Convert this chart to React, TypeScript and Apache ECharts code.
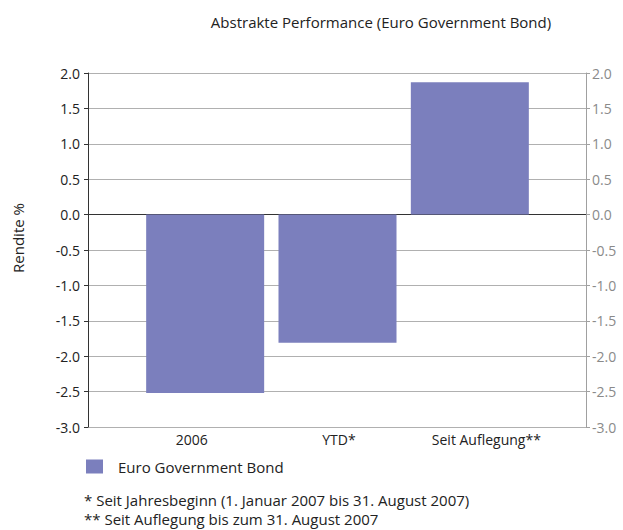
import React, { useEffect, useRef } from "react";
import * as echarts from "echarts";

const categories = ["2006", "YTD*", "Seit Auflegung**"];
const seriesName = "Euro Government Bond";
const values = [-2.52, -1.81, 1.87];
const titleText = "Abstrakte Performance (Euro Government Bond)";
const yAxisName = "Rendite %";
const footnotes = [
  "* Seit Jahresbeginn (1. Januar 2007 bis 31. August 2007)",
  "** Seit Auflegung bis zum 31. August 2007",
];
const yMin = -3;
const yMax = 2;
const yStep = 0.5;

const FONT = "'Open Sans', 'Noto Sans', sans-serif";

export default function App() {
  const ref = useRef<HTMLDivElement>(null);
  useEffect(() => {
    if (!ref.current) return;
    const chart = echarts.init(ref.current, undefined, { renderer: "svg" });
    const nLines = Math.round((yMax - yMin) / yStep) + 1;
    const splitColors: string[] = [];
    for (let i = 0; i < nLines; i++) {
      const v = yMin + i * yStep;
      splitColors.push(Math.abs(v) < 1e-9 ? "#333333" : "#b0b0b0");
    }
    const hiddenY = (gridIndex: number) => ({
      type: "value",
      gridIndex,
      min: yMin,
      max: yMax,
      interval: yStep,
      show: false,
      splitLine: { show: false },
    });
    chart.setOption({
      animation: false,
      textStyle: { fontFamily: FONT },
      title: {
        text: titleText,
        left: 376,
        textAlign: "center",
        top: 9,
        textStyle: { fontSize: 15, fontWeight: "normal", color: "#222", fontFamily: FONT },
      },
      legend: {
        left: 81,
        top: 454,
        itemWidth: 17,
        itemHeight: 14,
        icon: "rect",
        data: [seriesName],
        textStyle: { fontSize: 15, color: "#222", padding: [0, 0, 0, 10], fontFamily: FONT },
      },
      grid: [
        { left: 88, right: 37, top: 73, bottom: 103 },
        { left: 139, right: 87, top: 73, bottom: 103 },
        { left: 118, right: 63, top: 73, bottom: 103 },
      ],
      xAxis: [
        {
          type: "category",
          gridIndex: 0,
          data: categories,
          axisLine: { show: true, lineStyle: { color: "#333", width: 1 } },
          axisTick: { show: false },
          axisLabel: { show: false },
          splitLine: { show: false },
        },
        {
          type: "category",
          gridIndex: 1,
          data: categories,
          show: false,
        },
        {
          type: "category",
          gridIndex: 2,
          data: categories,
          axisLine: { show: false },
          axisTick: { show: false },
          axisLabel: { show: true, fontSize: 14, color: "#222", margin: 5, fontFamily: FONT },
        },
      ],
      yAxis: [
        {
          type: "value",
          gridIndex: 0,
          position: "left",
          min: yMin,
          max: yMax,
          interval: yStep,
          axisLine: { show: true, lineStyle: { color: "#333", width: 1 } },
          axisTick: { show: true, length: 4, lineStyle: { color: "#333" } },
          axisLabel: {
            fontSize: 14,
            color: "#222",
            margin: 8,
            formatter: (v: number) => v.toFixed(1),
            fontFamily: FONT,
          },
          splitLine: { show: true, lineStyle: { color: splitColors, width: 1 } },
        },
        {
          type: "value",
          gridIndex: 0,
          position: "right",
          min: yMin,
          max: yMax,
          interval: yStep,
          axisLine: { show: true, lineStyle: { color: "#a0a0a0", width: 1 } },
          axisTick: { show: true, length: 4, lineStyle: { color: "#a0a0a0" } },
          axisLabel: {
            fontSize: 14,
            color: "#8a8a8a",
            margin: 6,
            formatter: (v: number) => v.toFixed(1),
            fontFamily: FONT,
          },
          splitLine: { show: false },
        },
        hiddenY(1),
        hiddenY(2),
      ],
      series: [
        {
          name: seriesName,
          type: "bar",
          xAxisIndex: 1,
          yAxisIndex: 2,
          data: values,
          barWidth: 118,
          itemStyle: { color: "#7b7fbd" },
        },
      ],
      graphic: [
        {
          type: "text",
          x: 18,
          y: 238,
          rotation: Math.PI / 2,
          style: {
            text: yAxisName,
            fontSize: 15,
            fill: "#222",
            fontFamily: FONT,
            align: "center",
            verticalAlign: "middle",
          },
        },
        ...footnotes.map((t, i) => ({
          type: "text",
          left: 84,
          top: 492 + i * 19,
          style: { text: t, fontSize: 15, fill: "#222", fontFamily: FONT },
        })),
      ],
    });
    return () => chart.dispose();
  }, []);
  return (
    <div
      ref={ref}
      style={{ position: "absolute", left: 0, top: 0, width: 623, height: 530 }}
    />
  );
}
